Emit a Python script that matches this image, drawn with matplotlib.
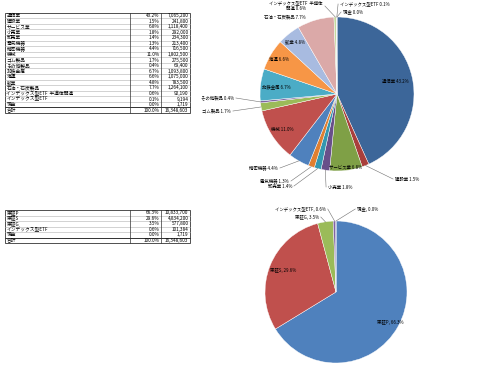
import numpy as np
import matplotlib
matplotlib.use("Agg")
import matplotlib.pyplot as plt
from matplotlib.patches import Rectangle

plt.rcParams["font.family"] = ["Noto Sans CJK JP", "DejaVu Sans"]

# 業種別
sectors = ["通信業", "建設業", "サービス業", "小売業", "卸売業", "電気機器", "精密機器",
           "機械", "ゴム製品", "その他製品", "非鉄金属", "海運", "鉱業", "石油・石炭製品",
           "インデックス型ETF  半導体関連", "インデックス型ETF", "現金"]
sector_values = [7065200, 241800, 1118400, 292000, 234300, 213400, 716500,
                 1802500, 275500, 69400, 1093800, 1075000, 783500, 1264100,
                 92190, 9194, 1719]
sector_pie_names = ["通信業", "建設業", "サービス業", "小売業", "卸売業", "電気機器", "精密機器",
                    "機械", "ゴム製品", "その他製品", "非鉄金属", "海運", "鉱業", "石油・石炭製品",
                    "インデックス型ETF  半導体\n関連", "インデックス型ETF", "現金"]
sector_total = 16348603

# 市場別
markets = ["東証P", "東証S", "東証G", "インデックス型ETF", "現金"]
market_values = [10833700, 4834200, 577800, 101384, 1719]
market_total = 16348603

sector_colors = ["#3c6699", "#a93f3c", "#7fa046", "#684f8a", "#3497b0", "#e07f30",
                 "#4f81bd", "#c0504d", "#9bbb59", "#8064a2", "#4bacc6", "#f79646",
                 "#a8bbe0", "#dba9a8", "#c5d99f", "#b6a8cc", "#9bd0de"]
market_colors = ["#4f81bd", "#c0504d", "#9bbb59", "#8064a2", "#4bacc6"]

W, H = 480, 382
fig = plt.figure(figsize=(W / 100, H / 100), dpi=100)
fig.patch.set_facecolor("white")

bg = fig.add_axes([0, 0, 1, 1])
bg.set_xlim(0, W)
bg.set_ylim(H, 0)
bg.axis("off")


def draw_table(names, values, total, top, row_h):
    rows = list(names) + ["合計"]
    pcts = [f"{v / total * 100:.1f}%" for v in values] + ["100.0%"]
    nums = [f"{v:,}" for v in values] + [f"{total:,}"]
    left, c1, c2, right = 5, 130, 161, 190
    bottom = top + row_h * len(rows)
    for i, (n, p, v) in enumerate(zip(rows, pcts, nums)):
        y = top + (i + 0.5) * row_h
        bg.text(left + 1.5, y, n, ha="left", va="center", fontsize=3.4)
        bg.text(c2 - 1.5, y, p, ha="right", va="center", fontsize=3.4)
        bg.text(right - 1.5, y, v, ha="right", va="center", fontsize=3.4)
        if i > 0:
            bg.plot([left, right], [top + i * row_h] * 2, color="#b0b0b0", lw=0.4)
    yt = top + row_h * (len(rows) - 1)
    bg.plot([left, right], [yt, yt], color="#333333", lw=0.7)
    bg.plot([c1, c1], [top, bottom], color="#333333", lw=0.5)
    bg.plot([c2, c2], [top, bottom], color="#333333", lw=0.5)
    bg.add_patch(Rectangle((left, top), right - left, bottom - top, fill=False,
                           edgecolor="#333333", lw=0.6))


draw_table(sectors, sector_values, sector_total, 12.7, 5.57)
draw_table(markets, market_values, market_total, 210, 5.5)


def pie_axes(cx, cy, r):
    a = fig.add_axes([(cx - r) / W, 1 - (cy + r) / H, 2 * r / W, 2 * r / H])
    a.set_xlim(-1, 1)
    a.set_ylim(-1, 1)
    a.axis("off")
    return a


def draw_pie(a, values, colors, texts, placement):
    wedges, _ = a.pie(values, colors=colors, startangle=90, counterclock=False,
                      radius=1, wedgeprops=dict(edgecolor="white", linewidth=0.3))
    a.set_xlim(-1, 1)
    a.set_ylim(-1, 1)
    for w, t, pl in zip(wedges, texts, placement):
        mid = np.deg2rad((w.theta1 + w.theta2) / 2)
        if pl[0] == "in":
            r = pl[1]
            a.text(r * np.cos(mid), r * np.sin(mid), t, ha="center", va="center",
                   fontsize=3.2, clip_on=False)
        else:
            _, x, y, ha, leader = pl
            a.text(x, y, t, ha=ha, va="center", fontsize=3.2, clip_on=False,
                   multialignment="center")
            if leader:
                dx = -0.025 if ha == "left" else 0.025
                a.plot([np.cos(mid), x + dx], [np.sin(mid), y], color="#707070",
                       lw=0.4, clip_on=False)


ax1 = pie_axes(337, 94, 77)
sector_texts = [f"{n} {v / sector_total * 100:.1f}%" for n, v in zip(sector_pie_names, sector_values)]
sector_place = [
    ("in", 0.77),
    ("out", 0.753, -1.104, "left", True),
    ("in", 0.95),
    ("out", -0.117, -1.208, "left", True),
    ("out", -0.584, -1.195, "right", True),
    ("out", -0.623, -1.13, "right", True),
    ("out", -0.766, -0.961, "right", True),
    ("in", 0.85),
    ("out", -1.377, -0.221, "right", True),
    ("out", -1.338, -0.052, "right", True),
    ("in", 0.8),
    ("in", 0.88),
    ("in", 0.87),
    ("out", -0.403, 1.0, "right", False),
    ("out", -0.182, 1.143, "right", True),
    ("out", 0.039, 1.169, "left", True),
    ("out", 0.078, 1.065, "left", True),
]
draw_pie(ax1, sector_values, sector_colors, sector_texts, sector_place)

ax2 = pie_axes(336, 292, 71)
market_texts = [f"{n}, {v / market_total * 100:.1f}%" for n, v in zip(markets, market_values)]
market_place = [
    ("in", 0.88),
    ("in", 0.8),
    ("out", -0.239, 1.056, "right", True),
    ("out", -0.141, 1.169, "right", True),
    ("out", 0.296, 1.169, "left", True),
]
draw_pie(ax2, market_values, market_colors, market_texts, market_place)

plt.savefig("out.png", dpi=100)
plt.close()
